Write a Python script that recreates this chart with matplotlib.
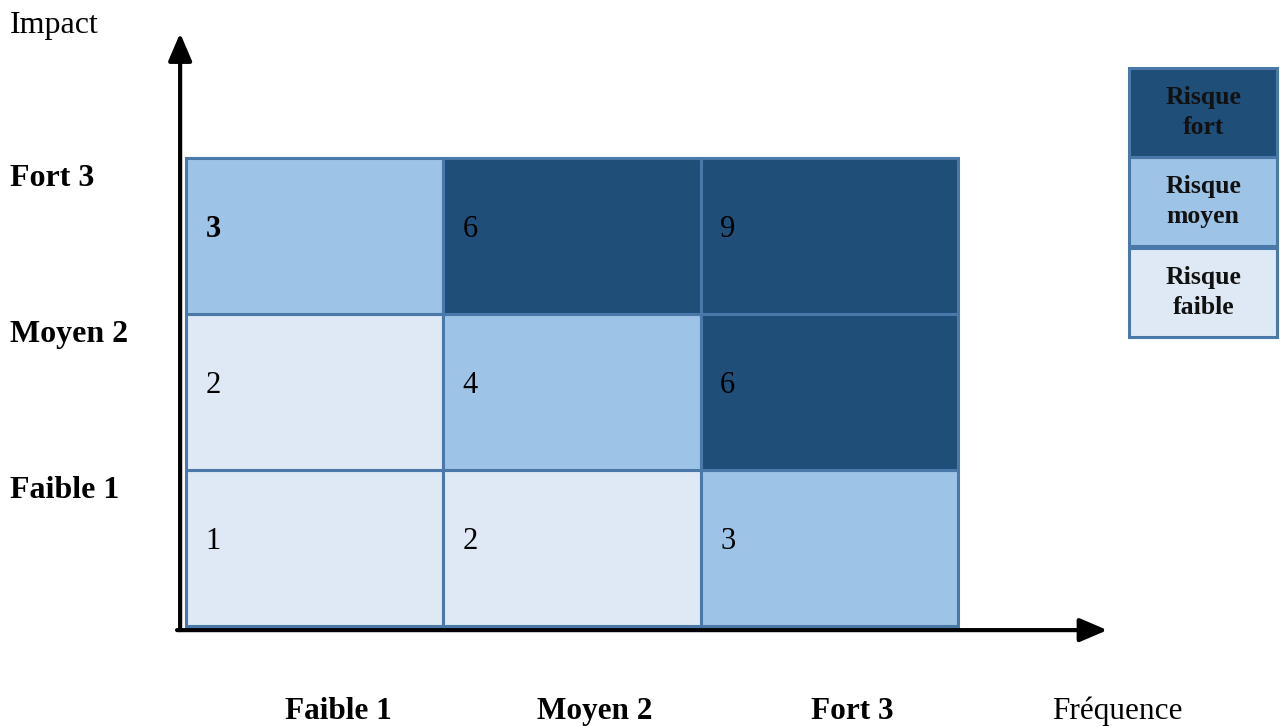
import matplotlib.pyplot as plt
from matplotlib.patches import Rectangle

plt.rcParams['font.family'] = ['Liberation Serif', 'DejaVu Serif']

# axis categories
freq_labels = ['Faible 1', 'Moyen 2', 'Fort 3']
impact_labels = ['Faible 1', 'Moyen 2', 'Fort 3']

# scores per cell, rows = impact (low -> high), cols = frequency
scores = [[1, 2, 3],
          [2, 4, 6],
          [3, 6, 9]]

# risk class per cell (0 faible, 1 moyen, 2 fort)
risk_class = [[0, 0, 1],
              [0, 1, 2],
              [1, 2, 2]]

class_names = ['Risque\nfaible', 'Risque\nmoyen', 'Risque\nfort']
class_colors = ['#DEE9F5', '#9DC3E6', '#1F4E79']
edge_color = '#4A78A8'

fig = plt.figure(figsize=(12.8, 7.27), dpi=100)
ax = fig.add_axes([0, 0, 1, 1])
# one unit = one matrix cell
ax.set_xlim(-0.723, 4.251)
ax.set_ylim(-0.647, 4.013)
ax.axis('off')

# matrix cells
for i, row in enumerate(scores):
    for j, val in enumerate(row):
        ax.add_patch(Rectangle((j, i), 1, 1, facecolor=class_colors[risk_class[i][j]],
                               edgecolor=edge_color, linewidth=2.2, zorder=2))
        bold = 'bold' if (i, j) == (2, 0) else 'normal'
        ax.text(j + 0.075, i + 0.54, str(val), fontsize=22, fontweight=bold,
                ha='left', va='center', color='black', zorder=3)

# axes arrows
arrow = dict(arrowstyle='-|>,head_length=0.7,head_width=0.3', lw=3, color='black',
             mutation_scale=24, shrinkA=0, shrinkB=0)
ax.annotate('', xy=(-0.023, 3.80), xytext=(-0.023, -0.026),
            arrowprops=arrow, zorder=4)
ax.annotate('', xy=(3.58, -0.026), xytext=(-0.035, -0.026),
            arrowprops=arrow, zorder=4)

# impact labels (y)
for i, lab in enumerate(impact_labels):
    ax.text(-0.684, i + 0.87, lab, fontsize=23, fontweight='bold',
            ha='left', va='center')
ax.text(-0.684, 3.85, 'Impact', fontsize=23, ha='left', va='center')

# frequency labels (x)
for j, lab in enumerate(freq_labels):
    ax.text(j + 0.59, -0.545, lab, fontsize=22.5, fontweight='bold',
            ha='center', va='center')
ax.text(3.62, -0.545, 'Fréquence', fontsize=22.5, ha='center', va='center')

# legend boxes
leg_x, leg_w, leg_h = 3.665, 0.575, 0.571
leg_bottoms = [1.853, 2.436, 3.006]
for k in range(3):
    y0 = leg_bottoms[k]
    ax.add_patch(Rectangle((leg_x, y0), leg_w, leg_h, facecolor=class_colors[k],
                           edgecolor=edge_color, linewidth=2.2, zorder=2))
    ax.text(leg_x + leg_w / 2, y0 + leg_h / 2, class_names[k], fontsize=18.5,
            fontweight='bold', ha='center', va='center', linespacing=1.4,
            color='#111111', zorder=3)

fig.savefig('out.png', dpi=100)
